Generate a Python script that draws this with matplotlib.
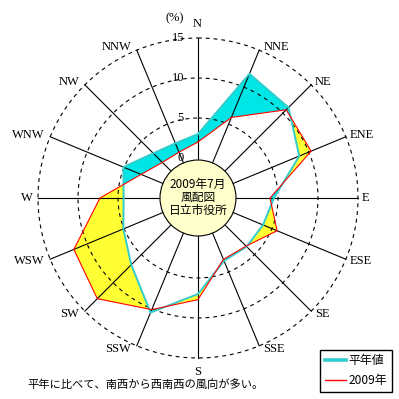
import numpy as np
import matplotlib
matplotlib.use("Agg")
import matplotlib.pyplot as plt
from matplotlib.patches import Polygon, Circle
from matplotlib.lines import Line2D

# ---- data ----
directions = ["N", "NNE", "NE", "ENE", "E", "ESE", "SE", "SSE",
              "S", "SSW", "SW", "WSW", "W", "WNW", "NW", "NNW"]
normal_vals = [3.0, 11.8, 11.0, 8.7, 4.5, 3.8, 3.6, 3.5,
               7.0, 10.5, 6.8, 5.1, 4.3, 5.1, 2.9, 2.4]
y2009_vals = [2.0, 5.9, 10.6, 10.3, 4.0, 5.7, 3.5, 3.3,
              7.7, 10.1, 12.8, 11.8, 7.25, 2.7, 1.3, 1.2]
ring_ticks = [0, 5, 10, 15]
ring_labels = ["0", "5", "10", "15"]
center_lines = ["2009年7月", "風配図", "日立市役所"]
legend_labels = ["平年値", "2009年"]
caption = "平年に比べて、南西から西南西の風向が多い。"

# ---- geometry ----
OFF = 5.0          # radius offset (inner calm circle)
RMAX = 15.0
PX = 8.0           # pixels per unit
W = H = 399
CX, CY = 198, 198

CJK = ["Noto Sans CJK JP", "DejaVu Sans"]
SERIF = ["Liberation Serif", "DejaVu Serif"]

fig = plt.figure(figsize=(W / 100, H / 100), dpi=100)
ax = fig.add_axes([0, 0, 1, 1])
ax.set_xlim(-CX / PX, (W - CX) / PX)
ax.set_ylim(-(H - CY) / PX, CY / PX)
ax.set_aspect("equal")
ax.axis("off")

theta = np.deg2rad(np.arange(len(directions)) * 22.5)


def to_xy(vals):
    r = np.asarray(vals, dtype=float) + OFF
    return np.column_stack([r * np.sin(theta), r * np.cos(theta)])


xy_n = to_xy(normal_vals)
xy_y = to_xy(y2009_vals)

cyan_fill = "#00E6E6"
cyan_line = "#33CCCC"
yellow_fill = "#FFFF33"

# fills: normal cyan, 2009 yellow, intersection white
pA = Polygon(xy_n, closed=True, fc=cyan_fill, ec="none", zorder=1)
ax.add_patch(pA)
pB = Polygon(xy_y, closed=True, fc=yellow_fill, ec="none", zorder=1.1)
ax.add_patch(pB)
clipB = Polygon(xy_y, closed=True, transform=ax.transData)
pAB = Polygon(xy_n, closed=True, fc="white", ec="none", zorder=1.2)
ax.add_patch(pAB)
pAB.set_clip_path(clipB)

# grid: dashed rings and spokes
tt = np.linspace(0, 2 * np.pi, 400)
for v in ring_ticks[1:]:
    r = v + OFF
    ax.plot(r * np.sin(tt), r * np.cos(tt), color="black", lw=0.8,
            ls=(0, (3.5, 3.5)), zorder=2)
for th in theta:
    ax.plot([0, (RMAX + OFF) * np.sin(th)], [0, (RMAX + OFF) * np.cos(th)],
            color="black", lw=0.8, zorder=2)

# series lines
cl = np.vstack([xy_n, xy_n[:1]])
ax.plot(cl[:, 0], cl[:, 1], color=cyan_line, lw=1.4, zorder=3)
cy = np.vstack([xy_y, xy_y[:1]])
ax.plot(cy[:, 0], cy[:, 1], color="#FF0000", lw=0.8, zorder=4)

# center circle
ax.add_patch(Circle((0, 0), 38 / PX, fc="#FFFFCC", ec="black", lw=0.8, zorder=5))
for i, s in enumerate(center_lines):
    ax.text(0, (14 - 13 * i) / PX, s, ha="center", va="center",
            fontsize=8.5, family=CJK, zorder=6)

# ring labels
for v, s in zip(ring_ticks, ring_labels):
    ax.text(-1.75, v + OFF, s, ha="right", va="center", fontsize=9,
            family=SERIF, zorder=6)
ax.text(-1.75, (CY - 18.5) / PX, "(%)", ha="right", va="center", fontsize=9,
        family=SERIF, zorder=6)

# direction labels
R_end = RMAX + OFF
for name, th in zip(directions, theta):
    ex, ey = R_end * np.sin(th), R_end * np.cos(th)
    s = np.sin(th)
    if abs(s) < 1e-6:
        ax.text(ex - 0.1, ey + (1.8 if np.cos(th) > 0 else -1.8), name,
                ha="center", va="center", fontsize=9, family=SERIF)
    elif s > 0:
        ax.text(ex + 0.5, ey + 0.45 * np.cos(th), name, ha="left",
                va="center", fontsize=9, family=SERIF)
    else:
        ax.text(ex - 0.7, ey + 0.45 * np.cos(th), name, ha="right",
                va="center", fontsize=9, family=SERIF)

# legend
handles = [Line2D([], [], color=cyan_line, lw=2.6),
           Line2D([], [], color="#FF0000", lw=1.0)]
leg = ax.legend(handles, legend_labels, loc="lower right",
                bbox_to_anchor=(391.7 / W, (H - 391.7) / H),
                bbox_transform=fig.transFigure, borderaxespad=0,
                prop={"family": CJK, "size": 8.6}, fancybox=False,
                frameon=True, edgecolor="black", framealpha=1,
                handlelength=1.75, handletextpad=0.2, borderpad=0.4,
                labelspacing=0.55)
leg.get_frame().set_linewidth(1.0)

# caption
ax.text((27 - CX) / PX, (CY - 385) / PX, caption, ha="left", va="center",
        fontsize=8.1, family=CJK)

fig.savefig("out.png", dpi=100)
